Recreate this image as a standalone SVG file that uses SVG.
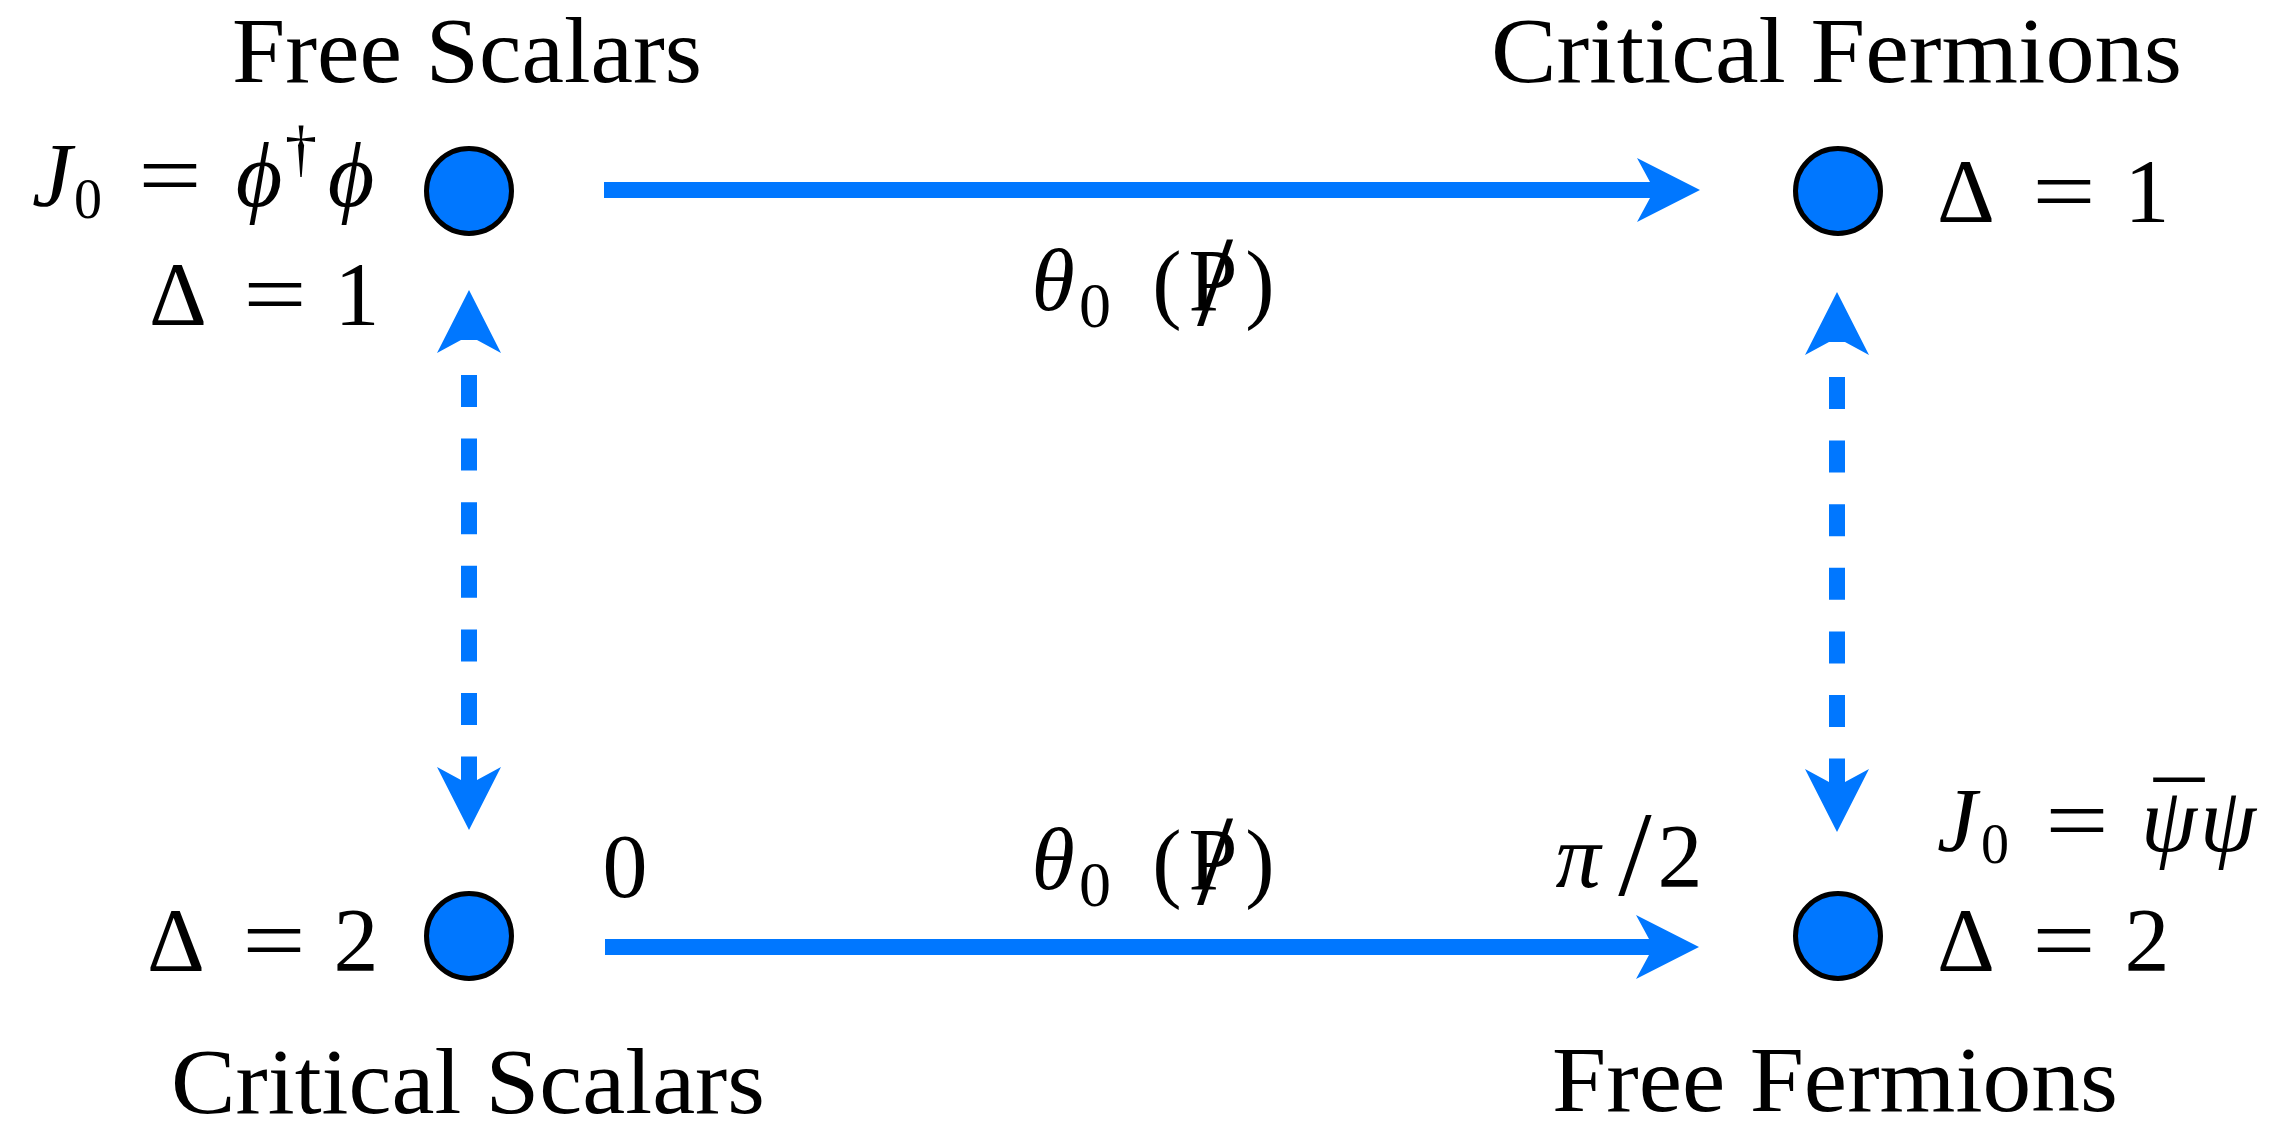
<svg xmlns="http://www.w3.org/2000/svg" xmlns:xlink="http://www.w3.org/1999/xlink" width="2282" height="1121" viewBox="0 0 2282 1121">
<style>
.title{font-family:"Liberation Serif","DejaVu Serif",serif;font-size:94px;fill:#000}
.m{font-family:"Liberation Serif","DejaVu Serif",serif;font-size:90px;fill:#000;text-anchor:middle}
.mi{font-style:italic}
.s56{font-size:56px}
.s64{font-size:64px}
.s88{font-size:88px}
.s100{font-size:100px}
.s120{font-size:120px}
.s130{font-size:130px}
.node{fill:#0077ff;stroke:#000;stroke-width:5}
.solid{stroke:#0077ff;stroke-width:16;fill:none}
.dash{stroke:#0077ff;stroke-width:16;fill:none;stroke-dasharray:32 31.6}
.head{fill:#0077ff}
</style>
<defs>
<path id="ah" d="M0,0 L-63,-32 L-50,-8 L-50,8 L-63,32 Z"/>
</defs>
<rect width="2282" height="1121" fill="#fff"/>

<g id="connectors">
  <line class="solid" x1="604" y1="190" x2="1652" y2="190"/>
  <use xlink:href="#ah" class="head" transform="translate(1700,190)"/>
  <line class="solid" x1="605" y1="947" x2="1651" y2="947"/>
  <use xlink:href="#ah" class="head" transform="translate(1699,947)"/>
  <line class="dash" x1="469" y1="375" x2="469" y2="780"/>
  <use xlink:href="#ah" class="head" transform="translate(469,290) rotate(-90)"/>
  <use xlink:href="#ah" class="head" transform="translate(469,830) rotate(90)"/>
  <line class="dash" x1="1837" y1="377" x2="1837" y2="782"/>
  <use xlink:href="#ah" class="head" transform="translate(1837,292) rotate(-90)"/>
  <use xlink:href="#ah" class="head" transform="translate(1837,832) rotate(90)"/>
  <g id="label-top">
    <text class="m mi s88" x="1053" y="310">θ</text>
    <text class="m s64" x="1095" y="327">0</text>
    <text class="m s88" x="1167" y="312">(</text>
    <text class="m s88" x="1213" y="310">P</text>
    <text class="m s130" x="1215" y="325">/</text>
    <text class="m s88" x="1260" y="312">)</text>
  </g>
  <g id="label-bottom">
    <text class="m mi s88" x="1053" y="889">θ</text>
    <text class="m s64" x="1095" y="906">0</text>
    <text class="m s88" x="1167" y="891">(</text>
    <text class="m s88" x="1213" y="889">P</text>
    <text class="m s130" x="1215" y="904">/</text>
    <text class="m s88" x="1260" y="891">)</text>
  </g>
  <g id="label-zero">
    <text class="m" x="625" y="897">0</text>
  </g>
  <g id="label-pi2">
    <text class="m mi" x="1578" y="887">π</text>
    <text class="m s120" x="1635" y="895">/</text>
    <text class="m" x="1680" y="887">2</text>
  </g>
</g>

<g id="free-scalars">
  <text class="title" x="232" y="82" textLength="470" lengthAdjust="spacingAndGlyphs">Free Scalars</text>
  <circle class="node" cx="469" cy="191" r="42.5"/>
  <text class="m mi" x="52" y="206">J</text>
  <text class="m s56" x="88" y="218">0</text>
  <text class="m" transform="translate(170,206) scale(1.25,1)">=</text>
  <text class="m mi" x="259" y="206">ϕ</text>
  <text class="m s64" x="301" y="170">†</text>
  <text class="m mi" x="351" y="206">ϕ</text>
  <text class="m" x="178" y="325">Δ</text>
  <text class="m" transform="translate(275,325) scale(1.25,1)">=</text>
  <text class="m" x="357" y="325">1</text>
</g>

<g id="critical-fermions">
  <text class="title" x="1491" y="82" textLength="691" lengthAdjust="spacingAndGlyphs">Critical Fermions</text>
  <circle class="node" cx="1838" cy="191" r="42.5"/>
  <text class="m" x="1966" y="222">Δ</text>
  <text class="m" transform="translate(2064,222) scale(1.25,1)">=</text>
  <text class="m" x="2147" y="222">1</text>
</g>

<g id="critical-scalars">
  <circle class="node" cx="469" cy="936" r="42.5"/>
  <text class="m" x="176" y="971">Δ</text>
  <text class="m" transform="translate(274,971) scale(1.25,1)">=</text>
  <text class="m" x="356" y="971">2</text>
  <text class="title" x="171" y="1113" textLength="594" lengthAdjust="spacingAndGlyphs">Critical Scalars</text>
</g>

<g id="free-fermions">
  <circle class="node" cx="1838" cy="936" r="42.5"/>
  <text class="m mi" x="1957" y="851">J</text>
  <text class="m s56" x="1995" y="863">0</text>
  <text class="m" transform="translate(2077,851) scale(1.25,1)">=</text>
  <text class="m s100" x="2179" y="853">¯</text>
  <text class="m mi" x="2169" y="851">ψ</text>
  <text class="m mi" x="2228" y="851">ψ</text>
  <text class="m" x="1966" y="971">Δ</text>
  <text class="m" transform="translate(2064,971) scale(1.25,1)">=</text>
  <text class="m" x="2147" y="971">2</text>
  <text class="title" x="1552" y="1111" textLength="566" lengthAdjust="spacingAndGlyphs">Free Fermions</text>
</g>
</svg>
